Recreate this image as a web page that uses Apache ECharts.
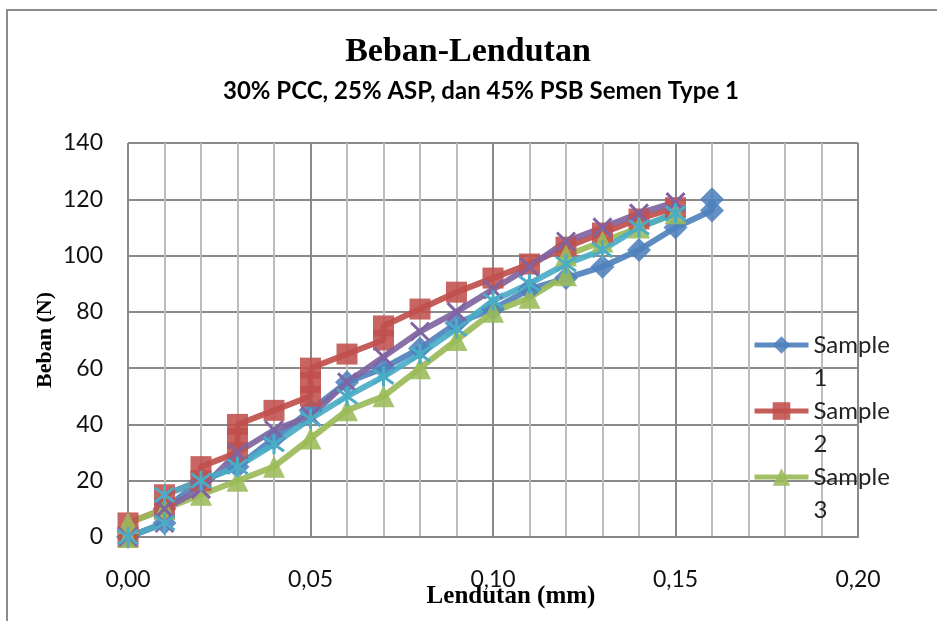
<!DOCTYPE html>
<html>
<head>
<meta charset="utf-8">
<script src="https://cdn.jsdelivr.net/npm/echarts@6/dist/echarts.min.js"></script>
<style>
  html, body { margin: 0; padding: 0; background: #fff; }
  #chart { width: 937px; height: 621px; }
</style>
</head>
<body>
<div id="chart"></div>
<script>
// Load (N) against deflection (mm) for five specimens: [deflection, load]
const sample1 = [[0,0],[0.01,5],[0.01,10],[0.02,20],[0.03,25],[0.04,35],[0.05,45],[0.06,55],[0.07,60],[0.08,67],[0.09,76],[0.10,81],[0.11,88],[0.12,92],[0.13,96],[0.14,102],[0.15,110],[0.16,116],[0.16,120]];
const sample2 = [[0,0],[0,5],[0.01,10],[0.01,15],[0.02,20],[0.02,25],[0.03,30],[0.03,35],[0.03,40],[0.04,45],[0.05,50],[0.05,55],[0.05,60],[0.06,65],[0.07,70],[0.07,75],[0.08,81],[0.09,87],[0.10,92],[0.11,97],[0.12,103],[0.13,108],[0.14,113],[0.15,117]];
const sample3 = [[0,0],[0,5],[0.01,10],[0.02,15],[0.03,20],[0.04,25],[0.05,35],[0.06,45],[0.07,50],[0.08,60],[0.09,70],[0.10,80],[0.11,85],[0.12,93],[0.12,100],[0.13,105],[0.14,110],[0.15,115]];
const sample4 = [[0,0],[0.01,5],[0.01,10],[0.02,17],[0.03,30],[0.04,38],[0.05,43],[0.06,55],[0.07,64],[0.08,73],[0.09,80],[0.10,88],[0.11,96],[0.12,105],[0.13,110],[0.14,115],[0.15,119]];
const sample5 = [[0,0],[0.01,5],[0.01,15],[0.02,20],[0.03,25],[0.04,33],[0.05,42],[0.06,50],[0.07,57],[0.08,65],[0.09,74],[0.10,84],[0.11,90],[0.12,97],[0.13,102],[0.14,110],[0.15,115]];

const seriesNames = ['Sample 1', 'Sample 2', 'Sample 3', 'Sample 4', 'Sample 5'];
const legendNames = ['Sample 1', 'Sample 2', 'Sample 3'];

const chartTitle = 'Beban-Lendutan';
const chartSubtitle = '30% PCC, 25% ASP, dan 45% PSB Semen Type 1';
const xTitle = 'Lendutan (mm)';
const yTitle = 'Beban (N)';

const colors = ['#4F81BD', '#C0504D', '#9BBB59', '#8064A2', '#4BACC6'];
const labelFont = 'Lato';

const chart = echarts.init(document.getElementById('chart'));

function lineSeries(name, data, color, symbol, size, stroked) {
  return {
    name: name,
    type: 'line',
    data: data,
    symbol: symbol,
    symbolSize: size,
    showAllSymbol: true,
    smooth: false,
    animation: false,
    lineStyle: { color: color, width: 6, opacity: 0.92 },
    itemStyle: stroked
      ? { color: color, borderColor: color, borderWidth: 3 }
      : { color: color, opacity: 0.88 }
  };
}

// One legend block per entry so the marker sits on the first text line
function legendAt(name, top) {
  return {
    data: [name],
    orient: 'vertical',
    left: 752,
    top: top,
    padding: 0,
    itemWidth: 54,
    itemHeight: 22,
    itemGap: 0,
    lineStyle: { width: 5 },
    formatter: function (n) {
      const parts = n.split(' ');
      return '{t| }\n{t|' + parts[0] + '}\n{t|' + parts[1] + '}';
    },
    textStyle: {
      color: '#222',
      rich: { t: { fontFamily: labelFont, fontSize: 24, lineHeight: 33, color: '#222' } }
    }
  };
}

const option = {
  backgroundColor: '#ffffff',
  animation: false,
  grid: { left: 128, right: 79, top: 143, bottom: 84, containLabel: false },
  xAxis: {
    type: 'value',
    min: 0,
    max: 0.2,
    interval: 0.05,
    axisLine: { show: true, lineStyle: { color: '#868686', width: 2 } },
    axisTick: { show: false },
    axisLabel: {
      margin: 31,
      color: '#111',
      fontFamily: labelFont,
      fontSize: 23,
      formatter: function (v) { return v.toFixed(2).replace('.', ','); }
    },
    splitLine: { show: true, lineStyle: { color: '#8a8a8a', width: 2 } },
    minorTick: { show: false, splitNumber: 5 },
    minorSplitLine: { show: true, lineStyle: { color: '#bdbdbd', width: 2 } }
  },
  yAxis: {
    type: 'value',
    min: 0,
    max: 140,
    interval: 20,
    axisLine: { show: false },
    axisTick: { show: false },
    axisLabel: { margin: 25, color: '#111', fontFamily: labelFont, fontSize: 23 },
    splitLine: { show: true, lineStyle: { color: '#8a8a8a', width: 2 } }
  },
  legend: [
    legendAt(legendNames[0], 300),
    legendAt(legendNames[1], 366),
    legendAt(legendNames[2], 432)
  ],
  graphic: [
    {
      type: 'rect', silent: true, z: 0,
      shape: { x: 7, y: 10, width: 960, height: 640 },
      style: { fill: 'none', stroke: '#8c8c8c', lineWidth: 2 }
    },
    {
      type: 'text', x: 468, y: 52,
      style: { text: chartTitle, font: 'bold 34px "Liberation Serif"', fill: '#000', align: 'center', verticalAlign: 'middle' }
    },
    {
      type: 'text', x: 481, y: 91,
      style: { text: chartSubtitle, font: 'bold 24px ' + labelFont, fill: '#000', align: 'center', verticalAlign: 'middle' }
    },
    {
      type: 'text', x: 511, y: 597,
      style: { text: xTitle, font: 'bold 25px "Liberation Serif"', fill: '#000', align: 'center', verticalAlign: 'middle' }
    },
    {
      type: 'text', x: 45, y: 340, rotation: Math.PI / 2,
      style: { text: yTitle, font: 'bold 22px "Liberation Serif"', fill: '#000', align: 'center', verticalAlign: 'middle' }
    }
  ],
  series: [
    lineSeries(seriesNames[0], sample1, colors[0], 'diamond', 24, false),
    lineSeries(seriesNames[1], sample2, colors[1], 'rect', 21, false),
    lineSeries(seriesNames[2], sample3, colors[2], 'triangle', 22, false),
    lineSeries(seriesNames[3], sample4, colors[3], 'path://M0,0L10,10M10,0L0,10', 18, true),
    lineSeries(seriesNames[4], sample5, colors[4], 'path://M0,0L10,10M10,0L0,10M5,-2L5,12', 20, true)
  ]
};

chart.setOption(option);
</script>
</body>
</html>
